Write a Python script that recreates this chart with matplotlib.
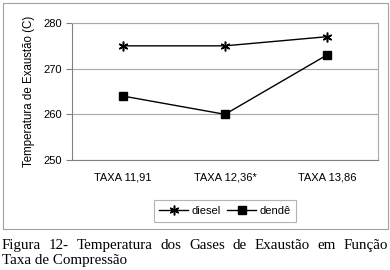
import matplotlib
matplotlib.use('Agg')
import matplotlib.pyplot as plt
from matplotlib.patches import Rectangle

categories = ['TAXA 11,91', 'TAXA 12,36*', 'TAXA 13,86']
diesel = [275, 275, 277]
dende = [264, 260, 273]
yticks = [250, 260, 270, 280]

caption_line1 = 'Figura 12- Temperatura dos Gases de Exaustão em Função'
caption_line2 = 'Taxa de Compressão'

W, H = 390, 270
fig = plt.figure(figsize=(3.9, 2.7), dpi=100)
fig.patch.set_facecolor('white')

def px(x, y):
    return x / W, 1 - y / H

# outer chart frame
fig.patches.append(Rectangle(px(3, 229), 385 / W, 226 / H, transform=fig.transFigure,
                             fill=False, edgecolor='#a0a0a0', linewidth=0.8))

ax = fig.add_axes([72 / W, 1 - 160 / H, 306 / W, 137 / H])
xs = range(len(categories))
ax.plot(xs, diesel, color='black', linewidth=1.0, marker=(6, 2, 0), markersize=7,
        markeredgewidth=1.1, label='diesel')
ax.plot(xs, dende, color='black', linewidth=1.0, marker='s', markersize=6, label='dendê')

ax.set_xlim(-0.5, 2.5)
ax.set_ylim(250, 280)
ax.set_yticks(yticks)
ax.set_xticks(list(xs))
ax.set_xticklabels(categories, fontfamily='Liberation Sans', fontsize=8)
ax.tick_params(axis='x', length=0, pad=9)
ax.tick_params(axis='y', length=4, width=0.8, color='#808080', pad=3)
for lbl in ax.get_yticklabels():
    lbl.set_fontfamily('Liberation Sans')
    lbl.set_fontsize(8)
ax.grid(axis='y', color='#a8a8a8', linewidth=0.8)
ax.set_axisbelow(True)
for s in ax.spines.values():
    s.set_color('#a8a8a8')
    s.set_linewidth(0.8)
ax.spines['left'].set_color('#808080')
ax.spines['bottom'].set_color('#808080')

ax.set_ylabel('Temperatura de Exaustão (C)', fontfamily='Liberation Sans', fontsize=8.3, labelpad=6)

leg = fig.legend(loc='center', bbox_to_anchor=(225 / W, 1 - 211 / H), ncol=2,
                 prop={'family': 'Liberation Sans', 'size': 8}, frameon=True, fancybox=False,
                 handlelength=2.6, handletextpad=0.3, columnspacing=0.6, borderpad=0.5)
leg.get_frame().set_edgecolor('#a0a0a0')
leg.get_frame().set_linewidth(0.8)

# caption, first line justified between x=2 and x=388
cap_font = dict(fontfamily='Liberation Serif', fontsize=10.8, va='baseline', ha='left')
renderer = fig.canvas.get_renderer()
words = caption_line1.split()
texts = [fig.text(0, 0, w, **cap_font) for w in words]
widths = [t.get_window_extent(renderer).width for t in texts]
gap = (386 - sum(widths)) / (len(words) - 1)
x = 2
for t, w in zip(texts, widths):
    t.set_position(px(x, 249))
    x += w + gap
fig.text(*px(2, 264), caption_line2, **cap_font)

fig.savefig('out.png', dpi=100)
